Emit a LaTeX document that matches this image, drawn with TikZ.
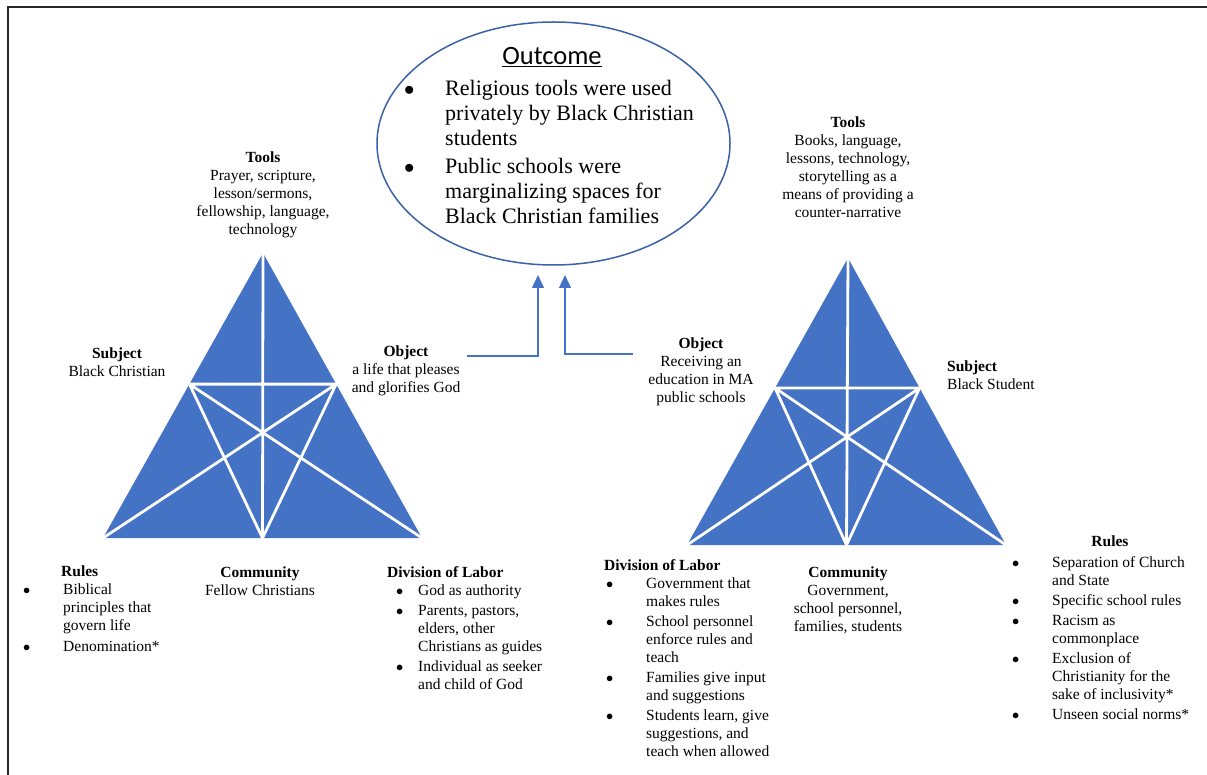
\documentclass[tikz,border=0pt]{standalone}
\usepackage{fontspec}
\setmainfont{Liberation Serif}
\newfontfamily\headfont{Carlito}
\usetikzlibrary{calc,positioning,arrows.meta,shapes.geometric}

\definecolor{triblue}{HTML}{4472C4}
\definecolor{ringblue}{HTML}{3A62A7}

\newcommand{\smallsz}{\fontsize{15.5}{18}\selectfont}
\newcommand{\bitem}[1]{\makebox[#1][l]{$\bullet$}}
\newcommand{\bcont}[1]{\hspace*{#1}}

\tikzset{
  lbl/.style={inner sep=0pt, align=center, font=\smallsz},
  lst/.style={inner sep=0pt, align=left, anchor=north west, font=\smallsz},
  hd/.style={inner sep=0pt, font=\smallsz\bfseries},
  gap/.style={draw=white, line width=2.8pt},
  flow/.style={triblue, line width=1.3pt, -{Triangle[width=12pt,length=13pt]}},
}

\begin{document}
\begin{tikzpicture}[x=1pt,y=-1pt]
			\useasboundingbox (0,0) rectangle (1207,775);
			\draw[line width=1.5pt, black!85] (8,775) -- (8,7) -- (1207,7);

			% outcome
			\node[ellipse, draw=ringblue, line width=1.5pt, minimum width=353pt, minimum height=243pt, inner sep=0pt] (outcome) at (553.5,143.5) {};
			\node[anchor=north, inner sep=0pt, font=\headfont\fontsize{26.5}{30}\selectfont] (outhd) at (552,47) {\underline{Outcome}};
			\node[lst, font=\fontsize{22}{25}\selectfont] (outlist) at (404,80) {\bitem{41pt}Religious tools were used\\ \bcont{41pt}privately by Black Christian\\ \bcont{41pt}students\\[3pt] \bitem{41pt}Public schools were\\ \bcont{41pt}marginalizing spaces for\\ \bcont{41pt}Black Christian families};

			% left triangle
			\coordinate (la) at (263,253);
			\coordinate (lb) at (103,538);
			\coordinate (lc) at (422,538);
			\coordinate (lm) at ($(lb)!0.5!(lc)$);
			\coordinate (ll) at ($(lb)!0.54!(la)$);
			\coordinate (lr) at ($(lc)!0.54!(la)$);
			\fill[triblue] (la) -- (lb) -- (lc) -- cycle;
			\draw[gap] (la) -- (lm) (ll) -- (lr) (ll) -- (lm) -- (lr) (ll) -- (lc) (lr) -- (lb);

			% right triangle
			\coordinate (ra) at (848,258);
			\coordinate (rb) at (687,545);
			\coordinate (rc) at (1006,545);
			\coordinate (rm) at ($(rb)!0.5!(rc)$);
			\coordinate (rl) at ($(rb)!0.547!(ra)$);
			\coordinate (rr) at ($(rc)!0.547!(ra)$);
			\fill[triblue] (ra) -- (rb) -- (rc) -- cycle;
			\draw[gap] (ra) -- (rm) (rl) -- (rr) (rl) -- (rm) -- (rr) (rl) -- (rc) (rr) -- (rb);

			\node[lbl, anchor=north] (toolsL) at (263,152) {\textbf{Tools}\\Prayer, scripture,\\lesson/sermons,\\fellowship, language,\\technology};
			\node[lbl, anchor=north] (subjL) at (117,348) {\textbf{Subject}\\Black Christian};
			\node[lbl, anchor=north] (objL) at (406,346) {\textbf{Object}\\a life that pleases\\and glorifies God};
			\node[lbl, anchor=north] (commL) at (260,567) {\textbf{Community}\\Fellow Christians};
			\node[hd, anchor=north west] (rulesLhd) at (61,566) {Rules};
			\node[lst] (rulesL) at (23,584) {\bitem{40pt}Biblical\\ \bcont{40pt}principles that\\ \bcont{40pt}govern life\\[3pt] \bitem{40pt}Denomination*};
			\node[hd, anchor=north west] (divLhd) at (387,566) {Division of Labor};
			\node[lst] (divL) at (396,585) {\bitem{22pt}God as authority\\[2pt] \bitem{22pt}Parents, pastors,\\ \bcont{22pt}elders, other\\ \bcont{22pt}Christians as guides\\[2pt] \bitem{22pt}Individual as seeker\\ \bcont{22pt}and child of God};

			\node[lbl, anchor=north] (toolsR) at (848,117) {\textbf{Tools}\\Books, language,\\lessons, technology,\\storytelling as a\\means of providing a\\counter-narrative};
			\node[lbl, anchor=north] (objR) at (701,338) {\textbf{Object}\\Receiving an\\education in MA\\public schools};
			\node[lbl, anchor=north west, align=left] (subjR) at (947,361) {\textbf{Subject}\\Black Student};
			\node[lbl, anchor=north] (commR) at (848,567) {\textbf{Community}\\Government,\\school personnel,\\families, students};
			\node[hd, anchor=north west] (divRhd) at (604,559) {Division of Labor};
			\node[lst] (divR) at (606,578) {\bitem{40pt}Government that\\ \bcont{40pt}makes rules\\[2pt] \bitem{40pt}School personnel\\ \bcont{40pt}enforce rules and\\ \bcont{40pt}teach\\[2pt] \bitem{40pt}Families give input\\ \bcont{40pt}and suggestions\\[2pt] \bitem{40pt}Students learn, give\\ \bcont{40pt}suggestions, and\\ \bcont{40pt}teach when allowed};
			\node[hd, anchor=north] (rulesRhd) at (1110,536) {Rules};
			\node[lst] (rulesR) at (1012,556) {\bitem{40pt}Separation of Church\\ \bcont{40pt}and State\\[2pt] \bitem{40pt}Specific school rules\\[2pt] \bitem{40pt}Racism as\\ \bcont{40pt}commonplace\\[2pt] \bitem{40pt}Exclusion of\\ \bcont{40pt}Christianity for the\\ \bcont{40pt}sake of inclusivity*\\[2pt] \bitem{40pt}Unseen social norms*};

			% arrows into the outcome
			\coordinate (objL-tail) at (467,356);
			\coordinate (objL-tip) at (538,275);
			\coordinate (objR-tail) at (633,354);
			\coordinate (objR-tip) at (565,275);
			\draw[flow] (objL-tail) -| (objL-tip);
			\draw[flow] (objR-tail) -| (objR-tip);
		\end{tikzpicture}
\end{document}
